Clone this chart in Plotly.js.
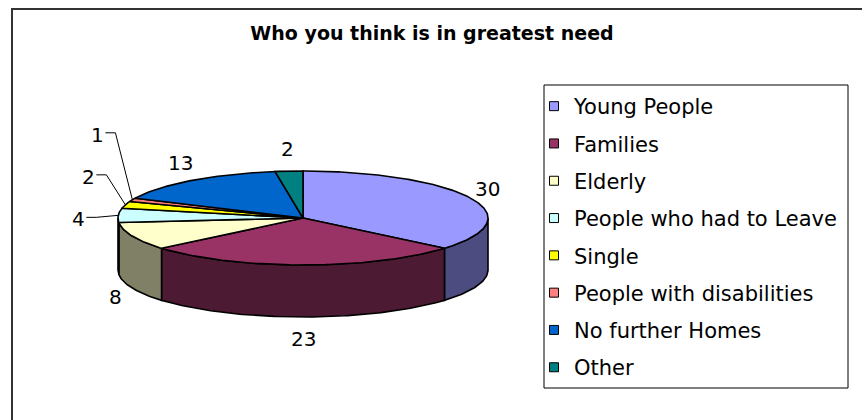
<!DOCTYPE html>
<html><head><meta charset="utf-8">
<script src="https://cdn.plot.ly/plotly-3.0.1.min.js"></script>
<style>html,body{margin:0;padding:0;background:#fff;overflow:hidden}#chart{overflow:hidden}</style>
</head><body><div id="chart" style="width:862px;height:420px"></div>
<script>
// ---- data ----
const categories = ['Young People','Families','Elderly','People who had to Leave','Single','People with disabilities','No further Homes','Other'];
const values = [30, 23, 8, 4, 2, 1, 13, 2];
const topColors = ['#9999FF','#993366','#FFFFCC','#CCFFFF','#FFFF00','#FF8080','#0066CC','#008080'];
const sideColors = ['#4C4C80','#4D1A33','#808066','#668080','#808000','#804040','#003366','#004040'];
const chartTitle = 'Who you think is in greatest need';

// ---- geometry (pixel-like axis space) ----
const W = 862, H = 420;
const cx = 303, cy = 218, a = 185, b = 47, depth = 52;
const FONT = 'DejaVu Sans, Verdana, sans-serif';
const total = values.reduce((s, v) => s + v, 0);

function pt(deg, dy) {
  const r = deg * Math.PI / 180;
  return [cx + a * Math.sin(r), cy - b * Math.cos(r) + (dy || 0)];
}
function arc(d0, d1, dy) {
  const xs = [], ys = [];
  const n = Math.max(2, Math.ceil(Math.abs(d1 - d0)) + 1);
  for (let i = 0; i < n; i++) {
    const d = d0 + (d1 - d0) * i / (n - 1);
    const p = pt(d, dy);
    xs.push(p[0]); ys.push(p[1]);
  }
  return [xs, ys];
}

const angles = [];
let cum = 0;
values.forEach(v => { const s = cum / total * 360; cum += v; angles.push([s, cum / total * 360]); });

const traces = [];
// side walls (front half only)
angles.forEach(([s, e], i) => {
  const s2 = Math.max(s, 90), e2 = Math.min(e, 270);
  if (e2 <= s2) return;
  const [tx, ty] = arc(s2, e2, 0);
  const [bx, by] = arc(e2, s2, depth);
  traces.push({
    type: 'scatter', mode: 'lines',
    x: tx.concat(bx, [tx[0]]), y: ty.concat(by, [ty[0]]),
    fill: 'toself', fillcolor: sideColors[i],
    line: { color: '#000', width: 1.6 }, hoverinfo: 'skip', showlegend: false
  });
});
// top faces
angles.forEach(([s, e], i) => {
  const [tx, ty] = arc(s, e, 0);
  traces.push({
    type: 'scatter', mode: 'lines',
    x: [cx].concat(tx, [cx]), y: [cy].concat(ty, [cy]),
    fill: 'toself', fillcolor: topColors[i],
    line: { color: '#000', width: 1.6 }, hoverinfo: 'text',
    text: categories[i] + ': ' + values[i], showlegend: false
  });
});

// labels
const annotations = [];
const leaderOffsets = { 3: [-40, 4], 4: [-37, -28], 5: [-35, -65] };
angles.forEach(([s, e], i) => {
  const m = (s + e) / 2;
  const r = m * Math.PI / 180;
  const sn = Math.sin(r), cs = Math.cos(r);
  if (leaderOffsets[i]) {
    const edge = pt(m, 0);
    const lx = edge[0] + leaderOffsets[i][0], ly = edge[1] + leaderOffsets[i][1];
    traces.push({
      type: 'scatter', mode: 'lines',
      x: [edge[0], lx + 18, lx + 8], y: [edge[1], ly - 2, ly - 2],
      line: { color: '#000', width: 1 }, hoverinfo: 'skip', showlegend: false
    });
    annotations.push({ x: lx, y: ly, xref: 'x', yref: 'y', text: String(values[i]), showarrow: false,
      font: { family: FONT, size: 20, color: '#000' }, xanchor: 'center', yanchor: 'middle' });
  } else {
    const edge = pt(m, depth * Math.min(1, Math.max(0, -3 * cs)));
    const off = 22;
    annotations.push({ x: edge[0] + off * sn * 0.85, y: edge[1] - off * cs, xref: 'x', yref: 'y',
      text: String(values[i]), showarrow: false,
      font: { family: FONT, size: 20, color: '#000' }, xanchor: 'center', yanchor: 'middle' });
  }
});

// legend entries
categories.forEach((c, i) => {
  traces.push({
    type: 'scatter', mode: 'markers', x: [-100], y: [-100], name: c,
    legendgroup: 'g' + i,
    marker: { symbol: 'square', size: 9, color: topColors[i], line: { color: '#000', width: 1 } },
    hoverinfo: 'skip'
  });
});

const layout = {
  width: W, height: H, autosize: false,
  margin: { l: 0, r: 0, t: 0, b: 0, pad: 0 },
  paper_bgcolor: '#fff', plot_bgcolor: 'rgba(0,0,0,0)',
  title: { text: '<b>' + chartTitle + '</b>', font: { family: FONT, size: 19, color: '#000' },
    x: 432 / W, xanchor: 'center', y: 1 - 33 / H, yanchor: 'middle', xref: 'paper', yref: 'container' },
  xaxis: { range: [0, W], visible: false, fixedrange: true },
  yaxis: { range: [H, 0], visible: false, fixedrange: true },
  showlegend: true,
  legend: {
    x: 534 / W, xanchor: 'left', y: 1 - 86 / H, yanchor: 'top',
    bgcolor: 'rgba(0,0,0,0)', borderwidth: 0,
    font: { family: FONT, size: 21, color: '#000' },
    traceorder: 'grouped', tracegroupgap: 7, itemclick: false, itemdoubleclick: false
  },
  shapes: [
    { type: 'line', xref: 'paper', yref: 'paper', x0: 11 / W, y0: 1 - 9 / H, x1: 1, y1: 1 - 9 / H, line: { color: '#333', width: 2 }, layer: 'below' },
    { type: 'line', xref: 'paper', yref: 'paper', x0: 12 / W, y0: 1 - 8 / H, x1: 12 / W, y1: 0, line: { color: '#333', width: 2 }, layer: 'below' },
    { type: 'rect', xref: 'paper', yref: 'paper', x0: 544 / W, y0: 1 - 85 / H, x1: 848 / W, y1: 1 - 388 / H, line: { color: '#000', width: 1 }, layer: 'below' }
  ],
  annotations: annotations
};

Plotly.newPlot('chart', traces, layout, { displayModeBar: false, staticPlot: true });
</script></body></html>
